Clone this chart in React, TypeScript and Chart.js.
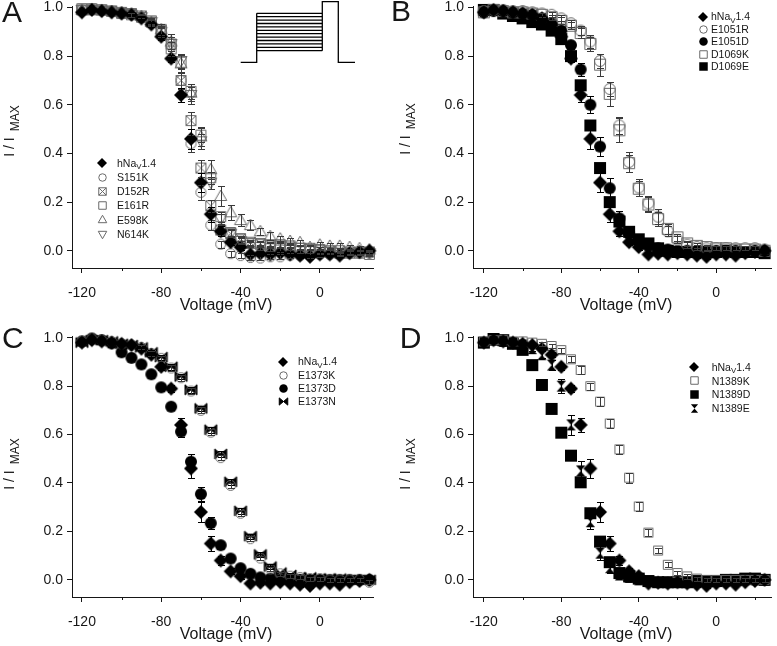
import React, { useEffect, useRef } from 'react';
import { Chart, registerables } from 'chart.js';

Chart.register(...registerables);

// ---------------- data ----------------
const VOLTAGES = [-120, -115, -110, -105, -100, -95, -90, -85, -80, -75, -70, -65, -60, -55, -50, -45, -40, -35, -30, -25, -20, -15, -10, -5, 0, 5, 10, 15, 20, 25];
const X_TICKS = [-120, -80, -40, 0];
const X_MINOR_TICKS = [-100, -60, -20, 20];
const Y_TICKS = [0, 0.2, 0.4, 0.6, 0.8, 1.0];
const X_TITLE = 'Voltage (mV)';
const Y_TITLE = 'I / I_{MAX}';
const WT_LABEL = 'hNa_{V}1.4';

const WT = [0.98, 0.99, 0.985, 0.98, 0.975, 0.97, 0.955, 0.93, 0.88, 0.79, 0.64, 0.46, 0.28, 0.15, 0.08, 0.035, 0.015, -0.015, -0.012, -0.015, -0.01, -0.015, -0.02, -0.025, -0.015, -0.015, -0.02, -0.01, -0.005, 0.0];
const WT_ERR = [0.005, 0.005, 0.005, 0.005, 0.005, 0.006, 0.008, 0.01, 0.012, 0.015, 0.03, 0.04, 0.04, 0.03, 0.02, 0.012, 0.01, 0.008, 0.008, 0.008, 0.008, 0.008, 0.008, 0.008, 0.008, 0.008, 0.006, 0.006, 0.006, 0.006];

// Panel A
const S151K = [0.99, 0.995, 0.99, 0.985, 0.98, 0.975, 0.96, 0.935, 0.9, 0.84, 0.7, 0.44, 0.24, 0.105, 0.027, -0.012, -0.02, -0.028, -0.03, -0.025, -0.025, -0.02, -0.02, -0.02, -0.015, -0.015, -0.015, -0.01, -0.01, -0.01];
const S151K_ERR = [0.005, 0.005, 0.005, 0.005, 0.006, 0.008, 0.01, 0.012, 0.015, 0.02, 0.03, 0.035, 0.03, 0.02, 0.015, 0.012, 0.01, 0.01, 0.01, 0.01, 0.01, 0.01, 0.01, 0.01, 0.01, 0.008, 0.008, 0.008, 0.008, 0.008];
const D152R = [0.99, 0.99, 0.99, 0.985, 0.98, 0.975, 0.965, 0.94, 0.905, 0.85, 0.7, 0.535, 0.34, 0.185, 0.085, 0.07, 0.05, 0.035, 0.03, 0.025, 0.02, 0.015, 0.01, 0.01, 0.005, 0.0, 0.0, -0.005, -0.005, -0.005];
const D152R_ERR = [0.005, 0.005, 0.005, 0.005, 0.006, 0.008, 0.01, 0.012, 0.02, 0.03, 0.035, 0.035, 0.035, 0.025, 0.02, 0.015, 0.012, 0.01, 0.01, 0.01, 0.01, 0.01, 0.008, 0.008, 0.008, 0.008, 0.008, 0.008, 0.008, 0.008];
const E161R = [0.995, 0.995, 0.99, 0.985, 0.975, 0.97, 0.96, 0.945, 0.91, 0.83, 0.775, 0.655, 0.475, 0.3, 0.14, 0.075, 0.045, 0.03, 0.025, 0.02, 0.025, 0.02, 0.01, 0.005, 0.0, -0.005, -0.01, -0.01, -0.01, -0.015];
const E161R_ERR = [0.005, 0.005, 0.005, 0.005, 0.006, 0.008, 0.01, 0.012, 0.02, 0.03, 0.03, 0.03, 0.03, 0.025, 0.02, 0.015, 0.012, 0.01, 0.01, 0.01, 0.01, 0.01, 0.008, 0.008, 0.008, 0.008, 0.008, 0.008, 0.008, 0.008];
const E598K = [0.99, 0.99, 0.99, 0.985, 0.98, 0.975, 0.965, 0.94, 0.91, 0.86, 0.77, 0.65, 0.47, 0.335, 0.225, 0.158, 0.126, 0.105, 0.08, 0.06, 0.05, 0.04, 0.035, 0.015, 0.025, 0.02, 0.02, 0.015, 0.01, 0.005];
const E598K_ERR = [0.005, 0.005, 0.005, 0.005, 0.006, 0.008, 0.01, 0.012, 0.02, 0.03, 0.04, 0.035, 0.04, 0.04, 0.04, 0.03, 0.025, 0.02, 0.015, 0.015, 0.012, 0.012, 0.01, 0.01, 0.01, 0.01, 0.01, 0.008, 0.008, 0.008];
const N614K = [0.99, 0.99, 0.985, 0.98, 0.975, 0.97, 0.96, 0.94, 0.9, 0.85, 0.78, 0.64, 0.45, 0.28, 0.13, 0.07, 0.04, 0.025, 0.015, 0.01, 0.005, 0.005, 0.0, 0.0, -0.005, -0.005, -0.01, -0.01, -0.01, -0.01];
const N614K_ERR = [0.005, 0.005, 0.005, 0.005, 0.006, 0.008, 0.01, 0.012, 0.02, 0.03, 0.03, 0.035, 0.03, 0.025, 0.02, 0.015, 0.012, 0.01, 0.01, 0.01, 0.01, 0.01, 0.008, 0.008, 0.008, 0.008, 0.008, 0.008, 0.008, 0.008];

// Panel B
const E1051R = [0.985, 0.99, 0.99, 0.985, 0.985, 0.98, 0.975, 0.97, 0.955, 0.935, 0.905, 0.86, 0.78, 0.665, 0.515, 0.365, 0.26, 0.195, 0.14, 0.08, 0.045, 0.025, 0.015, 0.01, 0.01, 0.01, 0.01, 0.01, 0.01, 0.005];
const E1051R_ERR = [0.005, 0.005, 0.005, 0.005, 0.005, 0.006, 0.008, 0.01, 0.012, 0.015, 0.02, 0.025, 0.03, 0.03, 0.035, 0.04, 0.035, 0.03, 0.03, 0.02, 0.015, 0.012, 0.01, 0.01, 0.008, 0.008, 0.008, 0.008, 0.008, 0.008];
const E1051D = [0.98, 0.985, 0.985, 0.98, 0.975, 0.97, 0.955, 0.935, 0.905, 0.845, 0.745, 0.6, 0.428, 0.257, 0.133, 0.07, 0.04, 0.02, 0.01, 0.005, 0.0, 0.0, -0.005, 0.0, 0.0, 0.0, 0.0, -0.005, 0.0, 0.0];
const E1051D_ERR = [0.005, 0.005, 0.005, 0.005, 0.005, 0.006, 0.008, 0.01, 0.012, 0.015, 0.025, 0.035, 0.04, 0.04, 0.03, 0.02, 0.012, 0.01, 0.008, 0.008, 0.008, 0.008, 0.008, 0.008, 0.008, 0.008, 0.008, 0.008, 0.008, 0.008];
const D1069K = [0.98, 0.99, 0.985, 0.98, 0.98, 0.975, 0.97, 0.96, 0.945, 0.925, 0.895, 0.85, 0.765, 0.645, 0.495, 0.36, 0.255, 0.19, 0.13, 0.09, 0.055, 0.03, 0.02, 0.015, 0.01, 0.01, 0.005, 0.005, 0.005, 0.0];
const D1069K_ERR = [0.005, 0.005, 0.005, 0.005, 0.005, 0.006, 0.008, 0.01, 0.015, 0.015, 0.02, 0.03, 0.045, 0.05, 0.05, 0.035, 0.03, 0.03, 0.03, 0.02, 0.015, 0.012, 0.01, 0.01, 0.008, 0.008, 0.008, 0.008, 0.008, 0.008];
const D1069E = [0.99, 0.99, 0.975, 0.965, 0.955, 0.94, 0.93, 0.905, 0.87, 0.8, 0.68, 0.515, 0.34, 0.2, 0.12, 0.078, 0.047, 0.03, 0.01, 0.0, -0.005, -0.005, -0.005, -0.005, -0.005, 0.0, -0.005, -0.005, -0.005, -0.01];
const D1069E_ERR = [0.005, 0.005, 0.005, 0.005, 0.005, 0.006, 0.008, 0.01, 0.012, 0.015, 0.015, 0.015, 0.015, 0.012, 0.01, 0.01, 0.008, 0.008, 0.008, 0.008, 0.008, 0.008, 0.008, 0.008, 0.008, 0.008, 0.008, 0.008, 0.008, 0.008];

// Panel C
const E1373K = [0.985, 0.995, 0.99, 0.985, 0.975, 0.97, 0.96, 0.935, 0.915, 0.875, 0.835, 0.78, 0.7, 0.61, 0.505, 0.39, 0.275, 0.17, 0.09, 0.045, 0.025, 0.015, 0.01, 0.005, 0.005, 0.0, 0.0, 0.0, 0.0, -0.01];
const E1373K_ERR = [0.005, 0.005, 0.005, 0.005, 0.005, 0.006, 0.008, 0.01, 0.01, 0.012, 0.012, 0.012, 0.012, 0.012, 0.012, 0.012, 0.012, 0.01, 0.01, 0.01, 0.008, 0.008, 0.008, 0.008, 0.008, 0.008, 0.008, 0.008, 0.008, 0.008];
const E1373D = [0.985, 0.997, 0.99, 0.977, 0.94, 0.917, 0.89, 0.849, 0.795, 0.715, 0.612, 0.488, 0.354, 0.234, 0.143, 0.088, 0.048, 0.025, 0.01, 0.005, 0.0, 0.0, 0.0, 0.0, 0.0, 0.0, 0.0, 0.0, 0.0, 0.0];
const E1373D_ERR = [0.005, 0.005, 0.005, 0.005, 0.006, 0.008, 0.01, 0.01, 0.01, 0.015, 0.02, 0.03, 0.03, 0.025, 0.012, 0.01, 0.008, 0.008, 0.008, 0.008, 0.008, 0.008, 0.008, 0.008, 0.008, 0.008, 0.008, 0.008, 0.008, 0.008];
const E1373N = [0.98, 0.99, 0.99, 0.985, 0.975, 0.97, 0.96, 0.94, 0.92, 0.88, 0.84, 0.785, 0.708, 0.62, 0.52, 0.405, 0.285, 0.18, 0.105, 0.055, 0.03, 0.02, 0.01, 0.01, 0.005, 0.005, 0.005, 0.0, 0.0, 0.0];
const E1373N_ERR = [0.005, 0.005, 0.005, 0.005, 0.005, 0.006, 0.008, 0.01, 0.01, 0.012, 0.012, 0.012, 0.012, 0.012, 0.012, 0.012, 0.012, 0.01, 0.01, 0.01, 0.008, 0.008, 0.008, 0.008, 0.008, 0.008, 0.008, 0.008, 0.008, 0.008];

// Panel D
const N1389K = [0.985, 0.99, 0.99, 0.985, 0.985, 0.98, 0.975, 0.966, 0.949, 0.911, 0.867, 0.8, 0.736, 0.646, 0.539, 0.422, 0.303, 0.195, 0.121, 0.062, 0.028, 0.014, 0.005, 0.0, 0.0, 0.0, 0.0, 0.0, 0.0, 0.0];
const N1389K_ERR = [0.005, 0.005, 0.005, 0.005, 0.005, 0.006, 0.008, 0.01, 0.01, 0.012, 0.015, 0.015, 0.018, 0.02, 0.02, 0.02, 0.018, 0.015, 0.012, 0.01, 0.01, 0.01, 0.008, 0.008, 0.008, 0.008, 0.008, 0.008, 0.008, 0.008];
const N1389D = [0.98, 0.995, 0.99, 0.975, 0.95, 0.887, 0.805, 0.706, 0.608, 0.513, 0.403, 0.275, 0.158, 0.073, 0.028, 0.014, 0.005, -0.005, -0.01, -0.01, -0.01, -0.01, -0.005, -0.005, -0.005, 0.0, 0.0, 0.005, 0.005, 0.0];
const N1389D_ERR = [0.005, 0.005, 0.005, 0.005, 0.006, 0.008, 0.01, 0.01, 0.012, 0.012, 0.015, 0.015, 0.015, 0.012, 0.01, 0.008, 0.008, 0.008, 0.008, 0.008, 0.008, 0.008, 0.008, 0.008, 0.008, 0.008, 0.008, 0.008, 0.008, 0.008];
const N1389E = [0.98, 0.99, 0.985, 0.98, 0.97, 0.955, 0.93, 0.887, 0.8, 0.64, 0.45, 0.24, 0.11, 0.05, 0.02, 0.01, 0.0, -0.005, -0.01, -0.01, -0.01, -0.01, -0.01, -0.005, -0.005, -0.005, 0.0, 0.0, 0.0, 0.0];
const N1389E_ERR = [0.005, 0.005, 0.005, 0.005, 0.006, 0.008, 0.015, 0.02, 0.03, 0.04, 0.04, 0.03, 0.03, 0.02, 0.012, 0.01, 0.008, 0.008, 0.008, 0.008, 0.008, 0.008, 0.008, 0.008, 0.008, 0.008, 0.008, 0.008, 0.008, 0.008];

// ---------------- styling / layout ----------------
const FONT = "'Liberation Sans', Arial, Helvetica, sans-serif";
const INK = '#161616';
const GRAY = '#6a6a6a';
const Y_MIN = -0.071;
const Y_MAX = 1.006;

type Series = { label: string; values: number[]; errors: number[]; marker: string; size: number; color: string };

const wt = (): Series => ({ label: WT_LABEL, values: WT, errors: WT_ERR, marker: 'diamond', size: 14, color: '#000' });

const PANELS = [
  {
    letter: 'A', left: 0, top: 0, w: 388, h: 322,
    area: { l: 72, r: 373, t: 6, b: 268 }, xMin: -125, xMax: 26.8,
    letterPos: { x: 2, y: 22 },
    legend: { mx: 102, tx: 117, y0: 163, dy: 14.2, font: 10.5, msize: 9 },
    yTitle: { x: 14, cy: 131 }, xTitleX: 226, inset: true,
    series: [
      wt(),
      { label: 'S151K', values: S151K, errors: S151K_ERR, marker: 'circleOpen', size: 11, color: GRAY },
      { label: 'D152R', values: D152R, errors: D152R_ERR, marker: 'boxX', size: 11, color: GRAY },
      { label: 'E161R', values: E161R, errors: E161R_ERR, marker: 'squareOpen', size: 11, color: GRAY },
      { label: 'E598K', values: E598K, errors: E598K_ERR, marker: 'triUp', size: 12, color: GRAY },
      { label: 'N614K', values: N614K, errors: N614K_ERR, marker: 'triDown', size: 12, color: GRAY },
    ] as Series[],
  },
  {
    letter: 'B', left: 388, top: 0, w: 389, h: 322,
    area: { l: 85, r: 387, t: 6, b: 268 }, xMin: -125.6, xMax: 28.3,
    letterPos: { x: 3, y: 21 },
    legend: { mx: 315, tx: 323, y0: 16.7, dy: 12.5, font: 10.5, msize: 9 },
    yTitle: { x: 22, cy: 129 }, xTitleX: 238, inset: false,
    series: [
      wt(),
      { label: 'E1051R', values: E1051R, errors: E1051R_ERR, marker: 'circleOpen', size: 12, color: GRAY },
      { label: 'E1051D', values: E1051D, errors: E1051D_ERR, marker: 'circle', size: 12, color: '#000' },
      { label: 'D1069K', values: D1069K, errors: D1069K_ERR, marker: 'squareOpen', size: 12, color: GRAY },
      { label: 'D1069E', values: D1069E, errors: D1069E_ERR, marker: 'square', size: 12, color: '#000' },
    ] as Series[],
  },
  {
    letter: 'C', left: 0, top: 322, w: 388, h: 324,
    area: { l: 72, r: 373, t: 14.3, b: 275 }, xMin: -125, xMax: 26.8,
    letterPos: { x: 2, y: 26.3 },
    legend: { mx: 283, tx: 298, y0: 39.7, dy: 13.3, font: 10.5, msize: 9 },
    yTitle: { x: 14, cy: 142 }, xTitleX: 226, inset: false,
    series: [
      wt(),
      { label: 'E1373K', values: E1373K, errors: E1373K_ERR, marker: 'circleOpen', size: 11, color: GRAY },
      { label: 'E1373D', values: E1373D, errors: E1373D_ERR, marker: 'circle', size: 12, color: '#000' },
      { label: 'E1373N', values: E1373N, errors: E1373N_ERR, marker: 'bowtie', size: 12, color: '#000' },
    ] as Series[],
  },
  {
    letter: 'D', left: 388, top: 322, w: 389, h: 324,
    area: { l: 85, r: 387, t: 14.3, b: 275 }, xMin: -125.6, xMax: 28.3,
    letterPos: { x: 11.7, y: 26.3 },
    legend: { mx: 306, tx: 323.7, y0: 45, dy: 13.8, font: 10.5, msize: 9 },
    yTitle: { x: 22, cy: 142 }, xTitleX: 238, inset: false,
    series: [
      wt(),
      { label: 'N1389K', values: N1389K, errors: N1389K_ERR, marker: 'squareOpen', size: 10, color: GRAY },
      { label: 'N1389D', values: N1389D, errors: N1389D_ERR, marker: 'square', size: 12, color: '#000' },
      { label: 'N1389E', values: N1389E, errors: N1389E_ERR, marker: 'hourglass', size: 11, color: '#000' },
    ] as Series[],
  },
];

// voltage protocol inset (panel A), in canvas pixels
const INSET = { x0: 240.7, x1: 256.7, x2: 322.3, x3: 338.3, x4: 355, yBase: 62.3, yTop: 13.3, yBot: 50.7, yPulse: 1.7, steps: 12 };

// ---------------- helpers ----------------
function markerCanvas(kind: string, size: number, color: string): HTMLCanvasElement {
  const s = Math.ceil(size) + 4;
  const c = document.createElement('canvas');
  c.width = s; c.height = s;
  const ctx = c.getContext('2d') as CanvasRenderingContext2D;
  const m = s / 2;
  const h = size / 2;
  ctx.lineWidth = 1;
  ctx.strokeStyle = color;
  ctx.fillStyle = color;
  ctx.beginPath();
  switch (kind) {
    case 'diamond':
      ctx.moveTo(m, m - h); ctx.lineTo(m + h, m); ctx.lineTo(m, m + h); ctx.lineTo(m - h, m); ctx.closePath(); ctx.fill();
      break;
    case 'circle':
      ctx.arc(m, m, h, 0, Math.PI * 2); ctx.fill();
      break;
    case 'circleOpen':
      ctx.arc(m, m, h - 0.5, 0, Math.PI * 2); ctx.stroke();
      break;
    case 'square':
      ctx.rect(m - h, m - h, size, size); ctx.fill();
      break;
    case 'squareOpen':
      ctx.rect(m - h + 0.5, m - h + 0.5, size - 1, size - 1); ctx.stroke();
      break;
    case 'boxX':
      ctx.rect(m - h + 0.5, m - h + 0.5, size - 1, size - 1);
      ctx.moveTo(m - h + 0.5, m - h + 0.5); ctx.lineTo(m + h - 0.5, m + h - 0.5);
      ctx.moveTo(m + h - 0.5, m - h + 0.5); ctx.lineTo(m - h + 0.5, m + h - 0.5);
      ctx.stroke();
      break;
    case 'triUp':
      ctx.moveTo(m, m - h); ctx.lineTo(m + h, m + h * 0.75); ctx.lineTo(m - h, m + h * 0.75); ctx.closePath(); ctx.stroke();
      break;
    case 'triDown':
      ctx.moveTo(m, m + h); ctx.lineTo(m + h, m - h * 0.75); ctx.lineTo(m - h, m - h * 0.75); ctx.closePath(); ctx.stroke();
      break;
    case 'bowtie':
      ctx.moveTo(m - h, m - h * 0.85); ctx.lineTo(m, m); ctx.lineTo(m - h, m + h * 0.85); ctx.closePath();
      ctx.moveTo(m + h, m - h * 0.85); ctx.lineTo(m, m); ctx.lineTo(m + h, m + h * 0.85); ctx.closePath();
      ctx.fill();
      ctx.stroke();
      break;
    case 'hourglass':
      ctx.moveTo(m - h * 0.85, m - h); ctx.lineTo(m + h * 0.85, m - h); ctx.lineTo(m, m); ctx.closePath();
      ctx.moveTo(m - h * 0.85, m + h); ctx.lineTo(m + h * 0.85, m + h); ctx.lineTo(m, m); ctx.closePath();
      ctx.fill();
      break;
  }
  return c;
}

function parseRich(text: string) {
  const parts: { t: string; sub: boolean }[] = [];
  const re = /_\{([^}]*)\}/g;
  let last = 0;
  let m: RegExpExecArray | null;
  while ((m = re.exec(text))) {
    if (m.index > last) parts.push({ t: text.slice(last, m.index), sub: false });
    parts.push({ t: m[1], sub: true });
    last = m.index + m[0].length;
  }
  if (last < text.length) parts.push({ t: text.slice(last), sub: false });
  return parts;
}

function richWidth(ctx: CanvasRenderingContext2D, text: string, size: number, subSize: number, gap: number) {
  let w = 0;
  for (const p of parseRich(text)) {
    ctx.font = `${p.sub ? subSize : size}px ${FONT}`;
    w += ctx.measureText(p.t).width + (p.sub ? gap : 0);
  }
  return w;
}

function drawRich(ctx: CanvasRenderingContext2D, text: string, x: number, y: number, size: number, subSize: number, subShift: number, gap: number) {
  let cx = x;
  ctx.textBaseline = 'alphabetic';
  ctx.textAlign = 'left';
  for (const p of parseRich(text)) {
    ctx.font = `${p.sub ? subSize : size}px ${FONT}`;
    if (p.sub) cx += gap;
    ctx.fillText(p.t, cx, y + (p.sub ? subShift : 0));
    cx += ctx.measureText(p.t).width;
  }
}

type Panel = typeof PANELS[number];

function makePlugin(panel: Panel, legendMarkers: HTMLCanvasElement[]) {
  return {
    id: 'decor' + panel.letter,
    afterDatasetsDraw(chart: any) {
      const ctx: CanvasRenderingContext2D = chart.ctx;
      const ys = chart.scales.y;
      ctx.save();
      ctx.lineWidth = 1;
      for (let di = chart.data.datasets.length - 1; di >= 0; di--) {
        const ds = chart.data.datasets[di];
        const meta = chart.getDatasetMeta(di);
        ctx.strokeStyle = ds.errorColor;
        meta.data.forEach((pt: any, i: number) => {
          const e = ds.errors[i];
          const v = ds.data[i].y;
          const x = Math.round(pt.x) + 0.5;
          const y1 = Math.round(ys.getPixelForValue(v + e)) + 0.5;
          const y2 = Math.round(ys.getPixelForValue(v - e)) + 0.5;
          if (y2 - y1 < 4) return;
          ctx.beginPath();
          ctx.moveTo(x, y1); ctx.lineTo(x, y2);
          ctx.moveTo(x - 3.5, y1); ctx.lineTo(x + 3.5, y1);
          ctx.moveTo(x - 3.5, y2); ctx.lineTo(x + 3.5, y2);
          ctx.stroke();
        });
      }
      ctx.restore();
    },
    afterDraw(chart: any) {
      const ctx: CanvasRenderingContext2D = chart.ctx;
      const xs = chart.scales.x;
      const area = chart.chartArea;
      ctx.save();
      ctx.fillStyle = INK;
      ctx.strokeStyle = INK;
      ctx.lineWidth = 1;

      // minor x ticks
      ctx.beginPath();
      for (const v of X_MINOR_TICKS) {
        const x = Math.round(xs.getPixelForValue(v)) + 0.5;
        ctx.moveTo(x, area.bottom);
        ctx.lineTo(x, area.bottom + 3);
      }
      ctx.stroke();

      // panel letter
      ctx.font = `30px ${FONT}`;
      ctx.textBaseline = 'alphabetic';
      ctx.textAlign = 'left';
      ctx.fillText(panel.letter, panel.letterPos.x, panel.letterPos.y);

      // x title
      ctx.font = `16px ${FONT}`;
      ctx.textAlign = 'center';
      ctx.fillText(X_TITLE, panel.xTitleX, area.bottom + 42);

      // y title (rotated, with subscript)
      const tw = richWidth(ctx, Y_TITLE, 14, 12, 6);
      ctx.save();
      ctx.translate(panel.yTitle.x, panel.yTitle.cy);
      ctx.rotate(-Math.PI / 2);
      drawRich(ctx, Y_TITLE, -tw / 2, 0, 14, 12, 5, 6);
      ctx.restore();

      // legend
      const lg = panel.legend;
      panel.series.forEach((s, i) => {
        const y = lg.y0 + i * lg.dy;
        const img = legendMarkers[i];
        ctx.drawImage(img, Math.round(lg.mx - img.width / 2), Math.round(y - img.height / 2));
        ctx.fillStyle = INK;
        drawRich(ctx, s.label, lg.tx, y + lg.font * 0.36, lg.font, lg.font * 0.75, 2.5, 0);
      });

      // stimulus protocol inset
      if (panel.inset) {
        const I = INSET;
        ctx.strokeStyle = '#000';
        ctx.lineWidth = 1.3;
        ctx.beginPath();
        ctx.moveTo(I.x0, I.yBase); ctx.lineTo(I.x1, I.yBase); ctx.lineTo(I.x1, I.yTop);
        ctx.moveTo(I.x2, I.yBot); ctx.lineTo(I.x2, I.yPulse); ctx.lineTo(I.x3, I.yPulse);
        ctx.lineTo(I.x3, I.yBase); ctx.lineTo(I.x4, I.yBase);
        for (let k = 0; k < I.steps; k++) {
          const y = I.yTop + (k * (I.yBot - I.yTop)) / (I.steps - 1);
          ctx.moveTo(I.x1, y); ctx.lineTo(I.x2, y);
        }
        ctx.stroke();
      }
      ctx.restore();
    },
  };
}

function buildConfig(panel: Panel) {
  const { area, w, h } = panel;
  const datasets = panel.series.map((s) => ({
    label: s.label,
    data: VOLTAGES.map((v, i) => ({ x: v, y: s.values[i] })),
    errors: s.errors,
    errorColor: s.color === GRAY ? '#3a3a3a' : '#000',
    pointStyle: markerCanvas(s.marker, s.size, s.color),
    pointRadius: 5,
    showLine: false,
    clip: false,
  }));
  const legendMarkers = panel.series.map((s) =>
    markerCanvas(s.marker, s.marker === 'diamond' ? panel.legend.msize + 1 : panel.legend.msize - 0.5, s.color)
  );
  return {
    type: 'scatter' as const,
    data: { datasets },
    options: {
      responsive: false,
      animation: false as const,
      devicePixelRatio: 1,
      events: [],
      layout: { padding: { left: 0, right: w - area.r, top: area.t, bottom: 0 } },
      plugins: { legend: { display: false }, tooltip: { enabled: false }, title: { display: false } },
      scales: {
        x: {
          type: 'linear' as const,
          position: 'bottom' as const,
          min: panel.xMin,
          max: panel.xMax,
          afterBuildTicks: (s: any) => { s.ticks = X_TICKS.map((v) => ({ value: v })); },
          afterFit: (s: any) => { s.height = h - area.b; s.paddingLeft = 0; s.paddingRight = 0; },
          grid: { drawOnChartArea: false, drawTicks: true, tickLength: 5, tickColor: INK, tickWidth: 1 },
          border: { display: true, color: INK, width: 1 },
          ticks: { color: INK, font: { family: FONT, size: 14 }, padding: 12, maxRotation: 0, autoSkip: false, callback: (v: any) => String(v) },
        },
        y: {
          type: 'linear' as const,
          position: 'left' as const,
          min: Y_MIN,
          max: Y_MAX,
          afterBuildTicks: (s: any) => { s.ticks = Y_TICKS.map((v) => ({ value: v })); },
          afterFit: (s: any) => { s.width = area.l; s.paddingTop = 0; s.paddingBottom = 0; },
          grid: { drawOnChartArea: false, drawTicks: true, tickLength: 5, tickColor: INK, tickWidth: 1 },
          border: { display: true, color: INK, width: 1 },
          ticks: { color: INK, font: { family: FONT, size: 14 }, padding: 4, autoSkip: false, callback: (v: any) => Number(v).toFixed(1) },
        },
      },
    },
    plugins: [makePlugin(panel, legendMarkers)],
  };
}

export default function App() {
  const refs = useRef<(HTMLCanvasElement | null)[]>([]);
  useEffect(() => {
    const charts = PANELS.map((p, i) => new Chart(refs.current[i] as HTMLCanvasElement, buildConfig(p) as any));
    return () => charts.forEach((c) => c.destroy());
  }, []);
  return (
    <div style={{ position: 'absolute', left: 0, top: 0, width: 777, height: 646, background: '#fff', overflow: 'hidden' }}>
      {PANELS.map((p, i) => (
        <canvas
          key={p.letter}
          ref={(el) => { refs.current[i] = el; }}
          width={p.w}
          height={p.h}
          style={{ position: 'absolute', left: p.left, top: p.top, width: p.w, height: p.h }}
        />
      ))}
    </div>
  );
}
